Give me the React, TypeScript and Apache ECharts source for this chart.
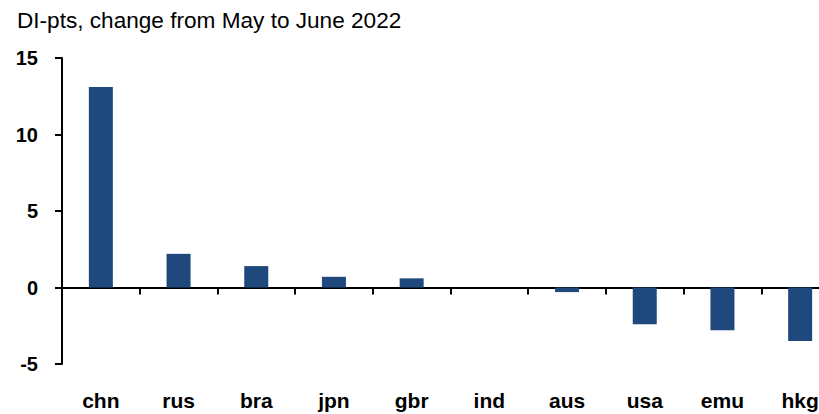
import React, { useEffect, useRef } from "react";
import * as echarts from "echarts";

const categories = ["chn", "rus", "bra", "jpn", "gbr", "ind", "aus", "usa", "emu", "hkg"];
const values = [13.1, 2.2, 1.4, 0.7, 0.6, 0.0, -0.3, -2.4, -2.8, -3.5];
const yTicks = { min: -5, max: 15, interval: 5 };
const titleText = "DI-pts, change from May to June 2022";

export default function App() {
  const ref = useRef<HTMLDivElement>(null);
  useEffect(() => {
    if (!ref.current) return;
    const chart = echarts.init(ref.current, null, { renderer: "svg" });
    chart.setOption({
      animation: false,
      title: {
        text: titleText,
        left: 17,
        top: 9,
        padding: 0,
        textStyle: {
          fontFamily: "Liberation Sans, Arial, sans-serif",
          fontWeight: "normal",
          fontSize: 22.6,
          color: "#000",
        },
      },
      grid: { left: 62, right: 0, top: 58, bottom: 50, containLabel: false },
      xAxis: [
        {
          type: "category",
          data: categories,
          position: "bottom",
          axisLine: { show: true, onZero: true, lineStyle: { color: "#000", width: 2 } },
          axisTick: { show: true, length: 7, lineStyle: { color: "#000", width: 2 } },
          axisLabel: { show: false },
          splitLine: { show: false },
        },
        {
          type: "category",
          data: categories,
          position: "bottom",
          axisLine: { show: false, onZero: false },
          axisTick: { show: false },
          axisLabel: {
            show: true,
            margin: 26,
            color: "#000",
            fontFamily: "Liberation Sans, Arial, sans-serif",
            fontWeight: "bold",
            fontSize: 21,
          },
          splitLine: { show: false },
        },
      ],
      yAxis: {
        type: "value",
        min: yTicks.min,
        max: yTicks.max,
        interval: yTicks.interval,
        axisLine: { show: true, lineStyle: { color: "#000", width: 2 } },
        axisTick: { show: true, length: 7, lineStyle: { color: "#000", width: 2 } },
        axisLabel: {
          margin: 24,
          color: "#000",
          fontFamily: "Liberation Sans, Arial, sans-serif",
          fontWeight: "bold",
          fontSize: 20,
        },
        splitLine: { show: false },
      },
      series: [
        {
          type: "bar",
          data: values,
          xAxisIndex: 0,
          barWidth: 24,
          itemStyle: { color: "#1F497D" },
        },
      ],
    });
    return () => chart.dispose();
  }, []);
  return (
    <div
      style={{
        position: "absolute",
        left: 0,
        top: 0,
        width: 819,
        height: 414,
        overflow: "hidden",
      }}
    >
      <div ref={ref} style={{ width: 839, height: 414 }} />
    </div>
  );
}
